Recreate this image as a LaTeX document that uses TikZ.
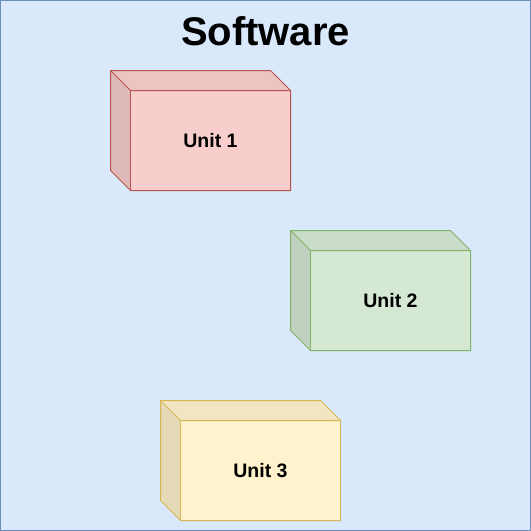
\documentclass[tikz,border=0pt]{standalone}
\usepackage{fontspec}
\setmainfont{Liberation Sans}
\definecolor{bgfill}{HTML}{DAE8FC}
\definecolor{bgline}{HTML}{6C8EBF}
\definecolor{redfill}{HTML}{F8CECC}
\definecolor{redline}{HTML}{B85450}
\definecolor{greenfill}{HTML}{D5E8D4}
\definecolor{greenline}{HTML}{82B366}
\definecolor{yellowfill}{HTML}{FFF2CC}
\definecolor{yellowline}{HTML}{D6B656}
\tikzset{
  unitlabel/.style={font=\bfseries\fontsize{19.5}{22}\selectfont, text=black},
}
% cube: #1 left x, #2 top y, #3 fill, #4 line, #5 name, #6 label
\newcommand{\mycube}[6]{%
  \fill[#3] (#1+20,#2+20) rectangle (#1+180,#2+120);
  \fill[#3!95!black] (#1,#2) -- (#1+160,#2) -- (#1+180,#2+20) -- (#1+20,#2+20) -- cycle;
  \fill[#3!90!black] (#1,#2) -- (#1+20,#2+20) -- (#1+20,#2+120) -- (#1,#2+100) -- cycle;
  \draw[#4, line width=1pt, line join=miter] (#1,#2) -- (#1+160,#2) -- (#1+180,#2+20) -- (#1+180,#2+120) -- (#1+20,#2+120) -- (#1,#2+100) -- cycle;
  \draw[#4, line width=1pt] (#1,#2) -- (#1+20,#2+20) -- (#1+180,#2+20);
  \draw[#4, line width=1pt] (#1+20,#2+20) -- (#1+20,#2+120);
  \node[unitlabel] (#5) at (#1+100,#2+70) {#6};
}
\begin{document}
\begin{tikzpicture}[x=1pt,y=-1pt]
\useasboundingbox (0,0) rectangle (531,531);
\draw[fill=bgfill, draw=bgline, line width=1pt] (0.5,0.5) rectangle (530.5,530.5);
\node[font=\bfseries\fontsize{40}{46}\selectfont] (title) at (265.5,31) {Software};
\mycube{110.5}{70.5}{redfill}{redline}{u1}{Unit 1}
\mycube{290.5}{230.5}{greenfill}{greenline}{u2}{Unit 2}
\mycube{160.5}{400.5}{yellowfill}{yellowline}{u3}{Unit 3}
\end{tikzpicture}
\end{document}
